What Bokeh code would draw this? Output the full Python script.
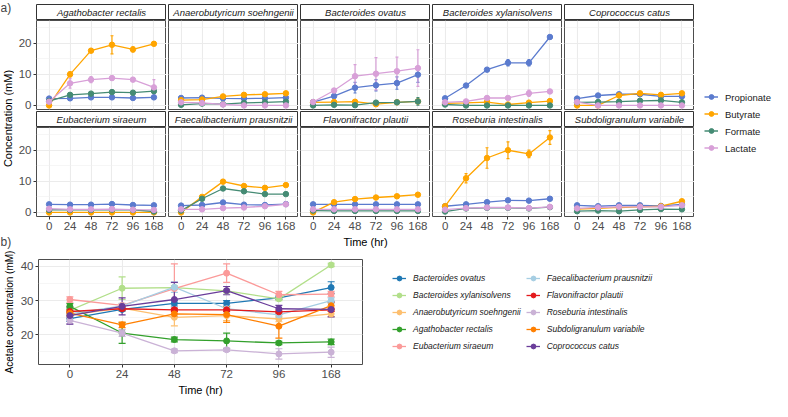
import numpy as np
from bokeh.plotting import figure
from bokeh.layouts import row, column
from bokeh.models import (Range1d, FixedTicker, SingleIntervalTicker, Label, Legend,
                          LegendItem, Whisker, TeeHead, ColumnDataSource)
from bokeh.embed import file_html
from bokeh.resources import INLINE

FONT = "Liberation Sans"

# ---------------- data: panel a ----------------
times = ["0", "24", "48", "72", "96", "168"]
acids = ["Propionate", "Butyrate", "Formate", "Lactate"]
acid_colors = ["#5B7BCE", "#FFA500", "#458B74", "#D8A0D8"]
facet_species = ["Agathobacter rectalis", "Anaerobutyricum soehngenii", "Bacteroides ovatus",
                 "Bacteroides xylanisolvens", "Coprococcus catus", "Eubacterium siraeum",
                 "Faecalibacterium prausnitzii", "Flavonifractor plautii",
                 "Roseburia intestinalis", "Subdoligranulum variabile"]

propionate_mean = [
    [2.2, 2.3, 2.6, 2.6, 2.4, 2.6],
    [2.4, 2.5, 2.3, 2.2, 2.3, 2.5],
    [1.1, 3.0, 5.7, 6.5, 7.2, 9.9],
    [2.3, 6.4, 11.5, 13.7, 13.7, 22.0],
    [2.2, 3.2, 3.6, 3.6, 2.9, 2.9],
    [2.6, 2.5, 2.5, 2.7, 2.4, 2.3],
    [2.2, 2.4, 3.2, 2.5, 2.4, 2.7],
    [2.6, 2.6, 2.6, 2.6, 2.6, 2.6],
    [2.0, 2.6, 3.3, 3.9, 3.8, 4.4],
    [2.3, 2.0, 2.3, 2.3, 2.1, 2.6]]
butyrate_mean = [
    [0.0, 10.0, 17.6, 19.5, 18.0, 19.8],
    [1.7, 1.9, 2.9, 3.4, 3.6, 3.9],
    [1.0, 1.1, 1.2, 0.4, 1.0, 1.3],
    [0.7, 0.8, 1.1, 0.3, 0.9, 1.4],
    [0.0, 0.0, 3.2, 3.9, 3.4, 3.9],
    [0.0, 0.0, 0.0, 0.0, 0.0, 0.0],
    [0.0, 5.0, 9.9, 8.5, 7.9, 8.8],
    [0.0, 3.3, 4.3, 4.8, 5.2, 5.7],
    [2.0, 11.0, 17.5, 20.0, 18.8, 24.1],
    [1.1, 1.3, 1.6, 1.8, 2.0, 3.6]]
formate_mean = [
    [1.4, 3.4, 3.8, 4.3, 4.1, 4.6],
    [0.2, 0.6, 0.4, 0.8, 1.0, 1.2],
    [0.0, 0.2, 0.1, 0.9, 1.0, 1.3],
    [0.3, 0.0, 0.0, 0.0, 0.0, 0.0],
    [1.0, 1.1, 1.2, 1.5, 1.6, 1.0],
    [0.8, 0.8, 0.8, 0.9, 0.8, 0.3],
    [0.6, 4.4, 7.7, 6.8, 5.9, 5.9],
    [0.6, 0.5, 0.5, 0.5, 0.5, 0.5],
    [0.3, 1.3, 1.5, 1.5, 1.3, 1.7],
    [0.4, 0.6, 0.4, 0.8, 1.1, 1.0]]
lactate_mean = [
    [1.2, 7.1, 8.3, 8.8, 8.3, 5.8],
    [1.0, 0.8, 0.3, 0.0, 0.0, 0.0],
    [1.1, 4.8, 9.4, 10.2, 11.0, 12.0],
    [1.0, 1.3, 2.4, 2.4, 3.9, 4.5],
    [1.1, 0.0, 0.0, 0.0, 0.0, 0.0],
    [1.2, 1.0, 1.0, 1.1, 0.9, 0.8],
    [1.0, 1.0, 1.4, 1.6, 2.0, 2.6],
    [1.0, 1.0, 1.0, 1.0, 1.0, 1.0],
    [0.9, 1.4, 1.6, 1.6, 1.4, 1.8],
    [1.3, 1.6, 1.8, 1.8, 1.8, 2.3]]

propionate_sd = [
    [0.3, 0.3, 0.3, 0.3, 0.3, 0.3],
    [0.2, 0.2, 0.2, 0.2, 0.2, 0.2],
    [0.6, 0.4, 1.7, 1.8, 2.0, 2.5],
    [0.3, 0.3, 0.3, 1.0, 1.0, 0.3],
    [0.3, 0.3, 0.3, 0.3, 0.3, 0.3],
    [0.2, 0.2, 0.2, 0.2, 0.2, 0.2],
    [0.2, 0.2, 0.2, 0.2, 0.2, 0.2],
    [0.1, 0.1, 0.1, 0.1, 0.1, 0.1],
    [0.2, 0.2, 0.2, 0.2, 0.2, 0.2],
    [0.2, 0.2, 0.2, 0.2, 0.2, 0.2]]
butyrate_sd = [
    [0.0, 0.8, 0.5, 2.9, 0.8, 0.5],
    [0.2, 0.2, 0.2, 0.2, 0.2, 0.2],
    [0.2, 0.2, 0.2, 0.2, 0.2, 0.2],
    [0.2, 0.2, 0.2, 0.2, 0.2, 0.2],
    [0.0, 0.0, 0.3, 0.3, 0.3, 0.3],
    [0.0, 0.0, 0.0, 0.0, 0.0, 0.0],
    [0.0, 0.4, 0.4, 0.3, 0.4, 0.3],
    [0.0, 0.2, 0.2, 0.2, 0.2, 0.2],
    [0.2, 1.5, 3.3, 2.7, 1.2, 2.2],
    [0.2, 0.2, 0.2, 0.2, 0.2, 0.5]]
formate_sd = [
    [0.3, 0.3, 0.3, 0.3, 0.3, 0.3],
    [0.2, 0.2, 0.2, 0.2, 0.2, 0.2],
    [0.1, 0.1, 0.1, 0.6, 0.6, 1.2],
    [0.1, 0.0, 0.0, 0.0, 0.0, 0.0],
    [0.2, 0.2, 0.2, 0.2, 0.2, 0.2],
    [0.1, 0.1, 0.1, 0.1, 0.1, 0.2],
    [0.2, 0.3, 0.3, 0.3, 0.3, 0.3],
    [0.1, 0.1, 0.1, 0.1, 0.1, 0.1],
    [0.1, 0.2, 0.2, 0.2, 0.2, 0.2],
    [0.1, 0.2, 0.1, 0.2, 0.2, 0.2]]
lactate_sd = [
    [0.3, 1.5, 1.0, 0.5, 0.5, 2.5],
    [0.2, 0.2, 0.2, 0.0, 0.0, 0.0],
    [0.3, 0.5, 3.7, 5.2, 4.5, 5.9],
    [0.2, 0.2, 0.3, 0.3, 1.0, 0.4],
    [0.2, 0.0, 0.0, 0.0, 0.0, 0.0],
    [0.2, 0.2, 0.2, 0.2, 0.2, 0.2],
    [0.2, 0.2, 0.2, 0.2, 0.2, 0.2],
    [0.1, 0.1, 0.1, 0.1, 0.1, 0.1],
    [0.1, 0.2, 0.2, 0.2, 0.2, 0.2],
    [0.2, 0.2, 0.2, 0.2, 0.2, 0.3]]

acid_means = [propionate_mean, butyrate_mean, formate_mean, lactate_mean]
acid_sds = [propionate_sd, butyrate_sd, formate_sd, lactate_sd]

# ---------------- data: panel b (acetate) ----------------
acetate_species = ["Bacteroides ovatus", "Bacteroides xylanisolvens", "Anaerobutyricum soehngenii",
                   "Agathobacter rectalis", "Eubacterium siraeum", "Faecalibacterium prausnitzii",
                   "Flavonifractor plautii", "Roseburia intestinalis", "Subdoligranulum variabile",
                   "Coprococcus catus"]
acetate_colors = ["#1F78B4", "#B2DF8A", "#FDBF6F", "#33A02C", "#FB9A99",
                  "#A6CEE3", "#E31A1C", "#CAB2D6", "#FF7F00", "#6A3D9A"]
acetate_mean = [
    [24.7, 27.4, 29.2, 29.2, 30.8, 33.8],
    [27.1, 33.6, 33.8, 32.8, 30.5, 40.4],
    [25.8, 27.8, 25.1, 25.6, 24.6, 26.1],
    [28.3, 20.5, 18.6, 18.2, 17.6, 17.9],
    [30.3, 28.6, 33.5, 38.0, 31.7, 31.9],
    [26.1, 28.4, 33.9, 27.6, 25.8, 30.0],
    [26.8, 27.6, 27.3, 27.3, 26.7, 27.3],
    [24.2, 20.5, 15.3, 15.6, 14.4, 14.9],
    [26.3, 22.9, 26.1, 25.9, 22.5, 28.5],
    [25.6, 28.3, 30.3, 32.9, 27.6, 27.4]]
acetate_sd = [
    [0.8, 0.5, 0.8, 0.8, 0.5, 1.7],
    [0.5, 3.3, 0.5, 0.5, 0.5, 0.5],
    [0.8, 0.8, 2.5, 1.5, 0.8, 0.8],
    [0.8, 3.0, 0.7, 2.3, 0.5, 0.8],
    [0.8, 0.5, 7.2, 2.7, 1.0, 0.8],
    [0.5, 0.8, 1.5, 1.0, 0.8, 0.8],
    [0.5, 0.5, 0.5, 0.5, 0.5, 0.5],
    [1.0, 1.0, 0.5, 0.5, 1.5, 1.5],
    [0.8, 0.8, 1.0, 2.3, 3.5, 1.0],
    [2.5, 2.5, 5.0, 1.2, 1.0, 2.2]]

# ---------------- helpers ----------------
tick_pos = list(range(len(times)))
tick_labels = {i: t for i, t in enumerate(times)}
FW, FH = 130, 89
STRIP_H, STRIP_TOP = 16, 4
A_H = 250  # total height of panel a block


def style_axis(ax, title_size="11px"):
    ax.axis_line_color = None
    ax.major_tick_line_color = "#333333"
    ax.major_tick_out = 3
    ax.major_tick_in = 0
    ax.minor_tick_line_color = None
    ax.major_label_text_font = FONT
    ax.major_label_text_font_size = "11.5px"
    ax.major_label_text_color = "#4D4D4D"
    ax.major_label_standoff = 2
    ax.axis_label_text_font = FONT
    ax.axis_label_text_font_size = title_size
    ax.axis_label_text_font_style = "normal"
    ax.axis_label_text_color = "black"
    ax.axis_label_standoff = 3


def style_grid(p):
    p.xgrid.ticker = FixedTicker(ticks=tick_pos)
    p.ygrid.ticker = SingleIntervalTicker(interval=10, num_minor_ticks=2)
    p.grid.grid_line_color = "#EBEBEB"
    p.grid.grid_line_width = 1.1
    p.ygrid.minor_grid_line_color = "#F0F0F0"
    p.ygrid.minor_grid_line_width = 0.6


def make_strip(k):
    r, c = divmod(k, 5)
    s = figure(frame_width=FW, frame_height=STRIP_H, x_range=Range1d(0, 1), y_range=Range1d(0, 1),
               x_axis_location=None, y_axis_location=None,
               min_border_left=22 if c == 0 else 2, min_border_right=0,
               min_border_top=STRIP_TOP if r == 0 else 0, min_border_bottom=0,
               toolbar_location=None, output_backend="svg")
    s.grid.visible = False
    s.outline_line_color = "#333333"
    s.background_fill_color = "white"
    s.add_layout(Label(x=0.5, y=0.5, text=facet_species[k], text_align="center",
                       text_baseline="middle", text_font=FONT, text_font_style="italic",
                       text_font_size="9.5px", text_color="#1A1A1A"))
    return s


def make_facet(k):
    r, c = divmod(k, 5)
    left, bottom = c == 0, r == 1
    p = figure(frame_width=FW, frame_height=FH,
               x_range=Range1d(-0.6, len(times) - 0.4), y_range=Range1d(-1.3, 27.3),
               x_axis_location="below" if bottom else None,
               y_axis_location="left" if left else None,
               min_border_left=22 if left else 2, min_border_right=0,
               min_border_top=0, min_border_bottom=0 if bottom else 2,
               toolbar_location=None, output_backend="svg")
    p.outline_line_color = "#4D4D4D"
    style_grid(p)
    if left:
        p.yaxis.ticker = FixedTicker(ticks=[0, 10, 20])
        style_axis(p.yaxis[0])
    if bottom:
        p.xaxis.ticker = FixedTicker(ticks=tick_pos)
        p.xaxis.major_label_overrides = tick_labels
        p.xaxis.axis_label = "Time (hr)" if c == 2 else " "
        style_axis(p.xaxis[0])
    for means, sds, col in zip(acid_means, acid_sds, acid_colors):
        m = np.array(means[k], dtype=float)
        s = np.array(sds[k], dtype=float)
        src = ColumnDataSource(dict(x=tick_pos, y=m, lo=m - s, hi=m + s))
        p.add_layout(Whisker(source=src, base="x", lower="lo", upper="hi",
                             line_color=col, line_width=1.2,
                             lower_head=TeeHead(size=3, line_color=col, line_width=1.2),
                             upper_head=TeeHead(size=3, line_color=col, line_width=1.2)))
        p.line("x", "y", source=src, line_color=col, line_width=1.3)
        p.scatter("x", "y", source=src, size=5.5, fill_color=col, line_color=col)
    return p


# ---------------- panel a ----------------
strips = [make_strip(k) for k in range(10)]
facets = [make_facet(k) for k in range(10)]
facet_col = column(row(*strips[:5]), row(*facets[:5]), row(*strips[5:]), row(*facets[5:]))

frames_top = STRIP_TOP + STRIP_H
frames_bottom = frames_top + FH + 2 + STRIP_H + FH
left_a = figure(frame_width=14, frame_height=A_H, x_range=Range1d(0, 1), y_range=Range1d(0, 1),
                x_axis_location=None, y_axis_location=None, min_border=0,
                toolbar_location=None, output_backend="svg")
left_a.grid.visible = False
left_a.outline_line_color = None
left_a.add_layout(Label(x=0, y=A_H, x_units="screen", y_units="screen", text="a)",
                        text_baseline="top", text_font=FONT, text_font_size="12px"))
left_a.add_layout(Label(x=7, y=A_H - (frames_top + frames_bottom) / 2, x_units="screen",
                        y_units="screen", text="Concentration (mM)", angle=90, angle_units="deg",
                        text_align="center", text_baseline="middle", text_font=FONT,
                        text_font_size="11px", text_color="black"))
left_a.add_layout(Label(x=0, y=A_H - frames_bottom - 25, x_units="screen", y_units="screen",
                        text="b)", text_baseline="middle", text_font=FONT, text_font_size="12px"))

leg_a = figure(frame_width=78, frame_height=244, x_range=Range1d(0, 1), y_range=Range1d(0, 1),
               x_axis_location=None, y_axis_location=None, min_border=0,
               toolbar_location=None, output_backend="svg")
leg_a.grid.visible = False
leg_a.outline_line_color = None
items_a = []
for name, col in zip(acids, acid_colors):
    lr = leg_a.line(x=[np.nan], y=[np.nan], line_color=col, line_width=1.3)
    sr = leg_a.scatter(x=[np.nan], y=[np.nan], size=5.5, fill_color=col, line_color=col)
    items_a.append(LegendItem(label=name, renderers=[lr, sr]))
legend_a = Legend(items=items_a, location="left", margin=10, padding=0, spacing=5,
                  glyph_width=14, glyph_height=12, label_height=12, label_standoff=7,
                  label_text_font=FONT, label_text_font_size="9.5px", label_text_color="#1A1A1A",
                  border_line_color=None, background_fill_alpha=0)
leg_a.add_layout(legend_a)

top = row(left_a, facet_col, leg_a)

# ---------------- panel b ----------------
BH = 105
pb = figure(frame_width=324, frame_height=BH, x_range=Range1d(-0.6, len(times) - 0.4),
            y_range=Range1d(11.3, 42.0), min_border_left=36, min_border_top=9,
            min_border_right=0, min_border_bottom=0,
            toolbar_location=None, output_backend="svg")
pb.outline_line_color = "#4D4D4D"
style_grid(pb)
pb.xaxis.ticker = FixedTicker(ticks=tick_pos)
pb.xaxis.major_label_overrides = tick_labels
pb.xaxis.axis_label = "Time (hr)"
pb.yaxis.ticker = FixedTicker(ticks=[20, 30, 40])
pb.yaxis.axis_label = "Acetate concentration (mM)"
style_axis(pb.xaxis[0])
style_axis(pb.yaxis[0], title_size="10px")

items_b = []
for name, col, means, sds in zip(acetate_species, acetate_colors, acetate_mean, acetate_sd):
    m = np.array(means, dtype=float)
    s = np.array(sds, dtype=float)
    src = ColumnDataSource(dict(x=tick_pos, y=m, lo=m - s, hi=m + s))
    pb.add_layout(Whisker(source=src, base="x", lower="lo", upper="hi",
                          line_color=col, line_width=1.2,
                          lower_head=TeeHead(size=7, line_color=col, line_width=1.2),
                          upper_head=TeeHead(size=7, line_color=col, line_width=1.2)))
    lr = pb.line("x", "y", source=src, line_color=col, line_width=1.3)
    sr = pb.scatter("x", "y", source=src, size=6, fill_color=col, line_color=col)
    items_b.append(LegendItem(label=name, renderers=[lr, sr]))

legend_b = Legend(items=items_b, ncols=2, location="left", margin=30, padding=0, spacing=5,
                  glyph_width=14, glyph_height=12, label_height=12, label_standoff=7,
                  label_text_font=FONT, label_text_font_size="8.5px",
                  label_text_font_style="italic", label_text_color="#1A1A1A",
                  border_line_color=None, background_fill_alpha=0)
pb.add_layout(legend_b, "right")

layout = column(top, pb)
open("out.html", "w").write(file_html(layout, INLINE))
